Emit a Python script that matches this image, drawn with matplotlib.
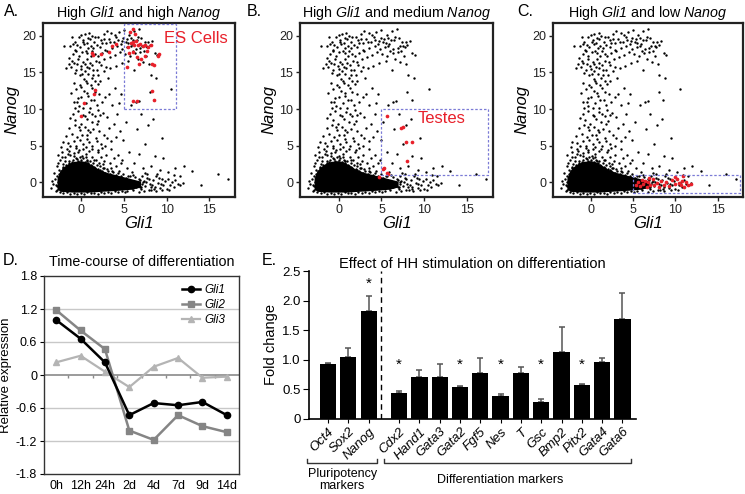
import numpy as np
import matplotlib
matplotlib.use("Agg")
import matplotlib.pyplot as plt
from matplotlib.patches import Rectangle

plt.rcParams['font.family'] = ['Liberation Sans', 'DejaVu Sans']
plt.rcParams['mathtext.fontset'] = 'custom'
# math text is used only for the italic gene names in the titles
plt.rcParams['mathtext.rm'] = 'Liberation Sans:italic'
plt.rcParams['mathtext.it'] = 'Liberation Sans:italic'

# ---- scatter data (Gli1, Nanog), shared by A-C ----
blob_x = [-2.8, -2.8, -2.5, -2.1, -1.5, -0.8, 0.0, 0.7, 1.4, 2.1, 3.0, 4.0, 5.0, 6.0, 7.0,
          7.0, 6.0, 4.5, 3.0, 1.0, -1.0, -2.4]
blob_y = [-1.0, 0.5, 1.4, 2.0, 2.5, 2.8, 2.9, 2.7, 2.2, 1.7, 1.3, 1.0, 0.7, 0.4, 0.1,
          -0.7, -1.0, -1.15, -1.25, -1.4, -1.4, -1.3]

upper_cloud = [(-1.3,18.6),(-1.0,17.5),(-0.8,19.2),(-0.5,18.8),(-0.3,19.8),(0.0,20.1),(0.2,19.5),
    (0.4,20.3),(0.6,19.0),(0.8,18.4),(1.0,19.6),(1.2,20.0),(1.5,19.2),(1.8,18.7),(2.0,19.9),
    (2.3,19.4),(2.6,20.2),(2.9,19.0),(3.2,19.6),(3.5,20.4),(3.8,19.1),(4.1,19.8),(4.4,20.5),
    (4.7,19.3),(5.0,20.8),(5.3,19.6),(5.6,20.1),(5.9,18.9),(6.2,20.6),(6.5,19.4),(6.8,20.9),
    (7.1,18.6),(7.4,19.2),(7.7,18.5),(8.0,18.8),(8.3,19.3),(8.6,17.6),(8.9,17.4),(-1.5,16.1),
    (-1.2,15.8),(-0.9,16.3),(-0.6,15.4),(-0.4,16.8),(-0.1,15.9),(0.2,16.5),(0.4,15.2),(0.7,16.9),
    (0.9,15.6),(1.1,17.2),(1.3,16.0),(1.6,17.5),(1.8,15.3),(2.1,16.4),(2.4,17.7),(2.7,16.8),
    (3.0,17.9),(3.3,17.1),(3.6,18.3),(3.9,17.4),(4.2,18.6),(4.5,17.8),(4.8,18.2),(5.1,17.5),
    (5.4,18.5),(5.7,17.2),(6.0,18.0),(6.3,17.6),(6.6,16.9),(6.9,17.8),(7.2,16.5),(7.6,17.3),
    (7.9,16.1),(-0.7,18.1),(0.1,17.8),(0.5,18.0),(1.4,18.3),(2.2,18.5),(-0.2,14.6),(0.3,14.1),
    (0.8,14.8),(1.2,14.3),(1.6,13.9),(2.0,14.7),(2.6,15.2),(3.4,15.6),(-1.8,15.6),(-2.0,18.6),
    (0.6,13.6),(1.9,13.4),(3.1,14.3),(4.0,15.9),(4.7,16.3),(5.5,16.6),(8.1,14.6),(8.8,14.3),
    (6.2,15.4),(-1.1,19.9),(0.9,20.4),(3.0,20.6),(5.8,19.7),(7.0,19.7),(-0.3,17.2),(1.7,16.6)]

upper_dense = [(-1.0,18.9),(-0.6,17.9),(-0.2,18.5),(0.3,18.9),(0.7,17.6),(1.1,18.6),(1.6,19.8),
    (1.9,17.3),(2.4,19.0),(2.8,18.1),(3.4,19.1),(3.9,20.1),(4.3,19.4),(4.6,18.9),(5.2,19.2),
    (5.5,19.0),(5.8,18.6),(6.1,19.5),(6.6,19.9),(6.9,18.4),(7.3,18.0),(7.8,19.1),(-1.4,17.0),
    (-1.1,16.6),(-0.5,16.2),(0.0,15.5),(0.4,16.1),(0.6,15.7),(1.0,16.3),(1.4,15.4),(2.3,16.0),
    (2.9,15.8),(-0.8,14.9),(0.1,14.8),(0.5,13.9),(1.4,14.7),(2.2,13.8),(-0.9,13.6),(-0.2,13.3),
    (0.15,19.1),(0.75,19.7),(1.25,17.9),(2.65,19.6),(4.9,19.7),(6.35,18.2),(7.55,18.6)]

mid_column = [(-1.2,12.2),(-0.9,11.0),(-0.6,12.8),(-0.3,10.4),(0.0,11.7),(0.3,12.5),(0.5,10.9),
    (0.8,11.8),(1.0,10.1),(1.3,12.9),(1.5,11.3),(1.8,10.6),(2.1,12.1),(2.4,11.0),(-1.0,9.3),
    (-0.7,8.5),(-0.4,9.8),(-0.1,8.0),(0.2,9.2),(0.6,8.6),(0.9,9.6),(1.2,8.2),(1.6,9.0),(2.0,8.4),
    (2.5,9.5),(3.0,8.9),(-1.4,7.4),(-1.1,6.6),(-0.8,7.8),(-0.5,6.2),(-0.2,7.1),(0.1,6.5),(0.4,7.6),
    (0.7,5.9),(1.0,6.9),(1.4,7.3),(1.7,6.1),(2.1,7.0),(2.6,6.5),(3.2,7.4),(-1.6,5.4),(-1.3,4.9),
    (-0.9,5.6),(-0.6,5.0),(-0.2,5.8),(0.2,5.2),(0.5,4.8),(0.9,5.5),(1.3,5.0),(1.8,5.7),(2.3,5.3),
    (2.8,4.9),(3.5,5.6),(4.0,6.2),(1.1,13.3),(0.0,13.0),(-0.4,11.5),(1.9,9.9),(2.8,11.6),
    (3.6,10.6),(4.2,9.3),(4.6,12.1),(3.9,12.9),(-0.5,11.0),(0.2,10.2),(0.7,12.2),(1.1,11.2),
    (1.6,12.4),(2.2,9.2),(-0.8,10.1),(0.4,9.0),(1.3,9.4),(-1.3,8.8),(-0.3,7.5),(0.8,7.2),(1.8,8.0),
    (-1.8,6.3),(-1.5,4.3),(-0.4,4.2),(0.6,6.5),(2.4,4.7),(-2.2,5.5),(3.0,6.0)]

fringe = [(-2.8,3.8),(-2.5,3.0),(-2.3,4.2),(-2.1,2.5),(-1.9,3.4),(-1.7,4.5),(-1.5,2.2),(-1.3,3.7),
    (-1.1,2.8),(-0.9,4.0),(-0.7,2.0),(-0.5,3.2),(-0.3,4.4),(-0.1,2.6),(0.1,3.6),(0.3,2.3),(0.5,3.9),
    (0.7,2.9),(0.9,4.3),(1.1,2.4),(1.3,3.4),(1.5,2.1),(1.7,3.1),(1.9,4.1),(2.1,2.6),(2.3,3.5),
    (2.5,2.0),(2.7,2.9),(3.0,1.8),(3.3,2.6),(3.6,1.6),(4.0,2.3),(4.4,1.5),(4.8,3.1),(5.3,1.9),
    (-2.9,2.2),(-2.6,1.7),(-2.2,1.9),(-1.8,1.6),(-1.4,2.7),(-0.8,1.8),(-0.2,1.9),(0.4,1.7),
    (1.0,1.9),(1.6,1.6),(2.2,1.7),(-2.4,4.8),(-1.6,3.9),(-0.6,4.7),(0.2,4.5),(1.2,4.6),(2.0,4.4),
    (2.9,3.8),(3.8,3.3),(-3.2,1.3),(-3.4,0.2),(-3.6,-0.8),(-3.0,-1.2),(-2.9,0.8),(-3.0,-0.3)]

halo = [(-2.6,1.1),(-2.4,1.6),(-2.2,2.1),(-2.0,1.4),(-1.8,2.4),(-1.6,2.0),(-1.4,2.9),(-1.2,2.5),
    (-1.0,3.1),(-0.8,2.7),(-0.6,3.3),(-0.4,2.9),(-0.2,3.4),(0.0,3.0),(0.2,3.3),(0.4,2.8),(0.6,3.1),
    (0.8,2.6),(1.0,2.9),(1.2,2.3),(1.4,2.7),(1.6,2.0),(1.8,2.4),(2.0,1.8),(2.2,2.2),(2.4,1.5),
    (2.6,1.9),(2.8,1.3),(3.1,1.6),(3.4,1.1),(3.7,1.4),(4.0,1.0),(4.3,1.3),(4.6,0.8),(4.9,1.1),
    (5.2,0.5),(5.5,0.8),(-2.5,-1.3),(-2.1,-1.5),(-1.7,-1.35),(-1.3,-1.55),(-0.9,-1.4),(-0.5,-1.6),
    (-0.1,-1.45),(0.3,-1.55),(0.7,-1.35),(1.1,-1.5),(1.5,-1.4),(1.9,-1.55),(2.3,-1.3),(2.7,-1.45),
    (3.1,-1.25),(3.5,-1.4),(3.9,-1.2),(4.3,-1.35),(4.7,-1.15),(5.1,-1.3),(-2.9,-0.5),(-2.8,0.1),
    (-3.1,0.5),(-2.9,-1.0),(-3.3,-0.2),(6.9,0.3),(7.1,-0.2),(7.3,0.2),(7.0,-0.7),(-2.7,2.7),
    (-1.9,2.9),(-0.9,3.6),(0.5,3.5),(1.5,3.0),(2.5,2.5),(3.5,2.0),(-2.3,3.4),(-1.1,1.5),(0.9,1.5)]

sparse = [(3.5,4.5),(4.3,3.8),(4.9,5.8),(5.6,4.1),(6.2,2.6),(6.8,3.9),(7.2,1.9),(7.5,5.2),
    (8.1,2.3),(8.6,3.6),(9.2,1.7),(6.5,7.3),(7.8,7.8),(7.0,9.4),(5.8,10.6),(6.4,11.0),(6.7,11.1),
    (8.4,8.6),(5.2,8.2),(4.5,7.0),(3.8,8.0),(9.5,6.1),(10.2,1.4),(11.0,2.0),(12.0,2.3),(13.0,1.5),
    (14.0,-0.3),(16.0,1.1),(17.2,0.5),(10.5,12.7),(8.0,12.3),(8.5,11.3),(9.6,3.3),(4.6,2.6),
    (5.9,1.4),(7.7,1.2),(3.2,12.1),(4.4,10.8)]

tail = [(5.2,0.6),(5.5,-0.4),(5.8,0.2),(6.0,-1.0),(6.3,0.7),(6.5,-0.3),(6.8,0.4),(7.0,-0.9),
    (7.2,0.1),(7.5,-0.5),(7.7,0.6),(8.0,-0.2),(8.2,-1.1),(8.4,0.3),(8.6,-0.6),(8.8,0.8),(9.0,-0.1),
    (9.2,-0.8),(9.4,0.4),(9.6,-0.4),(9.8,0.2),(10.0,-0.9),(10.2,0.5),(10.4,-0.3),(10.6,0.1),
    (10.8,-0.7),(11.0,0.3),(11.3,-0.2),(11.6,-0.4),(11.9,-0.1),(6.1,1.0),(7.4,1.3),(8.9,1.1),
    (5.4,-1.2),(6.7,-1.3),(7.9,-1.0),(9.5,-1.1),(10.9,1.0),(11.5,0.8),(6.9,-0.6),(7.1,0.8),
    (8.3,-0.4),(9.1,0.6),(5.7,0.9),(6.4,-0.7),(7.3,-1.2),(8.7,-1.2),(10.3,-1.0),(7.6,0.0),
    (7.9,0.4),(8.1,-0.7),(6.6,0.1),(6.2,-0.5),(5.9,-0.8),(9.3,-0.2),(8.5,-0.9)]

red_es = [(5.5,18.5),(5.8,19.0),(6.0,19.2),(6.2,18.8),(6.4,19.3),(6.6,18.7),(6.9,18.9),(7.2,18.6),
    (7.5,18.8),(7.8,18.5),(8.2,18.7),(5.7,20.5),(6.0,21.0),(6.3,20.2),(6.1,17.8),(6.5,17.1),
    (7.0,16.8),(7.4,17.3),(8.3,16.2),(8.5,16.0),(9.1,17.5),(9.0,17.3),(5.4,15.7),(6.8,16.2),
    (8.3,12.5),(8.5,11.3),(6.0,11.1),(6.5,11.1),(5.6,17.7),(7.7,17.9),(1.2,17.6),(1.4,17.4),
    (2.3,17.5),(3.2,17.8),(3.6,18.6),(4.1,18.9),(1.6,12.6),(1.5,12.0),(0.0,9.0),(0.3,10.9)]
red_testes = [(5.7,9.0),(7.5,7.6),(7.3,7.4),(7.9,5.5),(8.5,5.5),(8.0,2.9),(5.3,2.0),(5.2,1.8),
    (5.6,1.3),(5.8,1.1),(4.7,0.7)]
red_low = [(5.3,-0.3),(5.6,0.1),(5.8,-0.5),(6.0,0.3),(6.2,-0.2),(6.4,0.2),(6.6,-0.6),(6.8,0.0),
    (7.0,-0.3),(7.3,0.4),(7.5,-0.4),(7.8,-0.1),(8.0,-0.7),(8.3,0.2),(8.6,-0.3),(8.9,0.1),(9.2,-0.5),
    (9.6,0.3),(10.0,-0.2),(10.2,0.5),(10.4,-0.1),(10.6,-0.4),(10.8,0.2),(11.0,-0.6),(11.2,0.0),
    (11.5,-0.3),(11.8,-0.2),(10.9,0.9),(9.9,0.7),(6.9,0.6)]

# gates: (x0, y0, x1, y1)
gate_es = (5.0, 10.0, 11.1, 21.6)
gate_testes = (5.0, 1.0, 17.4, 10.0)
gate_low = (5.0, -1.5, 17.6, 1.0)

# ---- panel D ----
timepoints = ['0h', '12h', '24h', '2d', '4d', '7d', '9d', '14d']
gli1 = [1.00, 0.66, 0.23, -0.73, -0.51, -0.55, -0.49, -0.73]
gli2 = [1.18, 0.81, 0.47, -1.01, -1.18, -0.73, -0.93, -1.04]
gli3 = [0.23, 0.35, 0.06, -0.22, 0.15, 0.31, -0.05, -0.03]

# ---- panel E ----
genes = ['Oct4', 'Sox2', 'Nanog', 'Cdx2', 'Hand1', 'Gata3', 'Gata2', 'Fgf5', 'Nes', 'T',
         'Gsc', 'Bmp2', 'Pitx2', 'Gata4', 'Gata6']
fold = [0.92, 1.05, 1.82, 0.44, 0.70, 0.71, 0.54, 0.78, 0.38, 0.77, 0.29, 1.13, 0.57, 0.96, 1.68]
err = [0.03, 0.14, 0.26, 0.03, 0.12, 0.22, 0.01, 0.24, 0.03, 0.10, 0.05, 0.43, 0.02, 0.07, 0.45]
signif = [0, 0, 1, 1, 0, 0, 1, 0, 1, 0, 1, 0, 1, 0, 0]
n_pluri = 3

RED = '#e8202a'
fig = plt.figure(figsize=(7.45, 4.94), dpi=100)


def scatter_panel(rect, letter, letter_x, title, red, gate, label, label_xy):
    ax = fig.add_axes(rect)
    ax.fill(blob_x, blob_y, color='black', lw=0, zorder=1)
    for pts in (upper_cloud, upper_dense, mid_column, fringe, halo, sparse, tail):
        xs, ys = zip(*pts)
        ax.scatter(xs, ys, s=3, c='black', lw=0, zorder=2)
    rx, ry = zip(*red)
    ax.scatter(rx, ry, s=7, c=RED, lw=0, zorder=3)
    ax.add_patch(Rectangle((gate[0], gate[1]), gate[2] - gate[0], gate[3] - gate[1],
                           fill=False, ec='#7b7bd6', ls=(0, (2, 1.5)), lw=0.9, zorder=4))
    if label:
        ax.text(label_xy[0], label_xy[1], label, color=RED, fontsize=12, va='center', zorder=5)
    ax.set_xlim(-4.5, 18)
    ax.set_ylim(-2.0, 21.8)
    ax.set_xticks([0, 5, 10, 15])
    ax.set_yticks([0, 5, 10, 15, 20])
    for s in ax.spines.values():
        s.set_linewidth(1.6)
        s.set_color('#222222')
    ax.tick_params(length=3, width=1, labelsize=9, colors='#222222', pad=2)
    ax.set_xlabel('Gli1', style='italic', fontsize=12, labelpad=0)
    ax.set_ylabel('Nanog', style='italic', fontsize=12, labelpad=2)
    ax.set_title(title, fontsize=10.3, pad=4)
    fig.text(letter_x, 1 - 16 / 494, letter, fontsize=11.5, va='baseline')
    return ax


top_y = 1 - 197 / 494
top_h = 174.3 / 494
scatter_panel([43 / 745, top_y, 192 / 745, top_h], 'A.', 4 / 745,
              r'High $\mathrm{Gli1}$ and high $\mathrm{Nanog}$', red_es, gate_es,
              'ES Cells', (9.7, 19.7))
scatter_panel([300 / 745, top_y, 193 / 745, top_h], 'B.', 247 / 745,
              r'High $\mathrm{Gli1}$ and medium $\mathrm{Nanog}$', red_testes, gate_testes,
              'Testes', (9.2, 8.7))
scatter_panel([553 / 745, top_y, 190 / 745, top_h], 'C.', 517 / 745,
              r'High $\mathrm{Gli1}$ and low $\mathrm{Nanog}$', red_low, gate_low, None, None)

# ---- D: time course ----
axd = fig.add_axes([44 / 745, 1 - 474 / 494, 195 / 745, 198 / 494])
xd = np.arange(len(timepoints))
for g in (1.2, 0.6, -0.6, -1.2):
    axd.axhline(g, color='#c8c8c8', lw=1, zorder=0)
axd.axhline(0, color='#8a8a8a', lw=1.2, zorder=0)
axd.vlines(np.arange(0.5, len(timepoints) - 1), -0.05, 0, color='#8a8a8a', lw=1, zorder=0)
axd.plot(xd, gli3, color='#b4b4b4', lw=1.6, marker='^', ms=4.5, label='Gli3', zorder=2)
axd.plot(xd, gli2, color='#858585', lw=1.8, marker='s', ms=4.5, label='Gli2', zorder=3)
axd.plot(xd, gli1, color='black', lw=1.8, marker='o', ms=4.5, label='Gli1', zorder=4)
h, l = axd.get_legend_handles_labels()
axd.legend(h[::-1], l[::-1], loc='upper right', frameon=False, prop={'style': 'italic', 'size': 8.5},
           handlelength=1.6, handletextpad=0.3, labelspacing=0.25, borderaxespad=0.3,
           bbox_to_anchor=(0.97, 1.0))
axd.set_xlim(-0.5, len(timepoints) - 0.5)
axd.set_ylim(-1.8, 1.8)
axd.set_yticks([1.8, 1.2, 0.6, 0, -0.6, -1.2, -1.8])
axd.set_yticklabels(['1.8', '1.2', '0.6', '0', '-0.6', '-1.2', '-1.8'])
axd.set_xticks(xd)
axd.set_xticklabels(timepoints)
axd.tick_params(axis='x', length=0, pad=4, labelsize=9)
axd.tick_params(axis='y', length=3, labelsize=9, pad=2)
for s in axd.spines.values():
    s.set_linewidth(1)
    s.set_color('#333333')
axd.set_ylabel('Relative expression', fontsize=9.5, labelpad=3)
axd.set_title('Time-course of differentiation', fontsize=10.3, pad=7)
fig.text(3 / 745, 1 - 265 / 494, 'D.', fontsize=11.5, va='baseline')

# ---- E: HH stimulation ----
axe = fig.add_axes([309 / 745, 1 - 418.7 / 494, 327 / 745, 147.7 / 494])
xe = np.arange(len(genes)) + np.where(np.arange(len(genes)) >= n_pluri, 0.5, 0.0)
axe.bar(xe, fold, width=0.8, color='black', zorder=2)
axe.errorbar(xe, fold, yerr=[np.zeros(len(err)), err], fmt='none', ecolor='#555555',
             elinewidth=1.1, capsize=2.5, capthick=1.1, zorder=1)
for xi, f, e, s in zip(xe, fold, err, signif):
    if s:
        axe.text(xi, max(f + e + 0.08, 0.8), '*', ha='center', va='bottom', fontsize=11)
axe.axvline(n_pluri - 0.4, ymin=0, ymax=1, color='black', ls=(0, (4, 3)), lw=1)
axe.set_xlim(-0.94, 15.17)
axe.set_ylim(0, 2.5)
axe.set_yticks([0, 0.5, 1.0, 1.5, 2.0, 2.5])
axe.set_yticklabels(['0', '0.5', '1.0', '1.5', '2.0', '2.5'])
axe.set_xticks(xe)
axe.set_xticklabels(genes, rotation=45, ha='right', rotation_mode='anchor', style='italic')
axe.tick_params(axis='x', length=3, pad=2, labelsize=9.5)
axe.tick_params(axis='y', length=4, pad=2, labelsize=9.5)
axe.spines['top'].set_visible(False)
axe.spines['right'].set_visible(False)
for s in ('left', 'bottom'):
    axe.spines[s].set_linewidth(1.2)
axe.set_ylabel('Fold change', fontsize=10.5, labelpad=3)
axe.set_title('Effect of HH stimulation on differentiation', fontsize=10.5, pad=2)
fig.text(262 / 745, 1 - 265 / 494, 'E.', fontsize=11.5, va='baseline')

# group brackets under the gene labels
tr = axe.get_xaxis_transform()
by, bt = -0.302, -0.272
for x0, x1 in ((-1.05, 2.41), (2.76, 14.9)):
    axe.plot([x0, x0, x1, x1], [bt, by, by, bt], color='#333333', lw=1, transform=tr,
             clip_on=False)
axe.text(0.69, -0.415, 'Pluripotency\nmarkers', transform=tr, ha='center', va='center',
         fontsize=9, linespacing=0.95)
axe.text(8.47, -0.415, 'Differentiation markers', transform=tr, ha='center', va='center',
         fontsize=9)

fig.savefig('out.png', dpi=100)
